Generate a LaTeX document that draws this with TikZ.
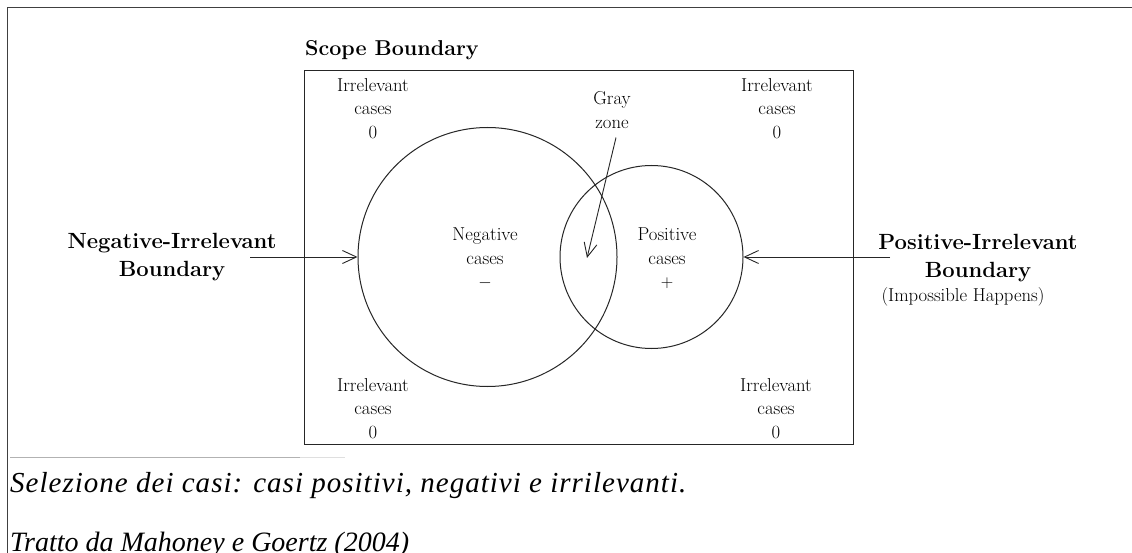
\documentclass[tikz,border=0pt]{standalone}
\usepackage{fontspec}
\newfontfamily\capfont{Liberation Serif}
\newfontfamily\capfontwide[LetterSpace=3.5]{Liberation Serif}
\usetikzlibrary{arrows.meta}
\begin{document}
\begin{tikzpicture}[x=1pt,y=-1pt,
  lbl/.style={align=center, inner sep=0pt, font=\fontsize{18.7}{23.5}\selectfont},
  bnd/.style={align=center, inner sep=0pt, font=\fontsize{22}{28}\selectfont\bfseries},
  ring/.style={circle, draw=black!85, line width=1pt, inner sep=0pt},
  arr/.style={-{Straight Barb[length=14pt,width=13pt,line width=0.9pt]}, line width=0.9pt, draw=black!85},
  captxt/.style={anchor=base west, inner sep=0pt, font=\fontsize{28}{34}\selectfont\capfont\itshape}
]
\useasboundingbox (0,0) rectangle (1132,553);
\fill[white] (0,0) rectangle (1132,553);
\draw[black!75, line width=1pt] (1132,8) -- (7,8) -- (7,553);

\node[draw=black!85, line width=1.2pt, minimum width=549pt, minimum height=374pt, inner sep=0pt, anchor=north west] (scope) at (304,70) {};
\node[bnd, anchor=west, font=\fontsize{21.5}{26}\selectfont\bfseries] (scopelbl) at (305,50) {Scope Boundary};

\node[ring, minimum size=259pt] (neg) at (487.5,257) {};
\node[ring, minimum size=183pt] (pos) at (651.5,257) {};

\node[lbl] (tl) at (373,108.5) {Irrelevant\\cases\\0};
\node[lbl] (tr) at (777,108.5) {Irrelevant\\cases\\0};
\node[lbl] (bl) at (373,408.5) {Irrelevant\\cases\\0};
\node[lbl] (br) at (776,408.5) {Irrelevant\\cases\\0};
\node[lbl] (negl) at (485,258.5) {Negative\\cases\\$-$};
\node[lbl] (posl) at (667,258.5) {Positive\\cases\\$+$};
\node[lbl] (gz) at (612,110) {Gray\\zone};

\node[bnd] (nib) at (172,257) {Negative-Irrelevant\\Boundary};
\node[bnd] (pib) at (978,258) {Positive-Irrelevant\\Boundary};
\node[lbl, anchor=north] (imp) at (963,287) {(Impossible Happens)};

\coordinate (nstart) at (250,257);
\draw[arr] (nstart) -- (neg.west);
\coordinate (pstart) at (890,257);
\draw[arr] (pstart) -- (pos.east);
\coordinate (gzend) at (587,258);
\draw[arr] ([shift={(4,9)}]gz.south) -- (gzend);

\draw[gray!60, line width=1pt] (10,457) -- (300,457);
\draw[gray!25, line width=1pt] (300,457) -- (345,457);

\node[captxt, font=\fontsize{29}{34}\selectfont\capfontwide\itshape] (cap1) at (10,492) {Selezione dei casi: casi positivi, negativi e irrilevanti.};
\node[captxt] (cap2) at (10,551) {Tratto da Mahoney e Goertz (2004)};
\end{tikzpicture}
\end{document}
